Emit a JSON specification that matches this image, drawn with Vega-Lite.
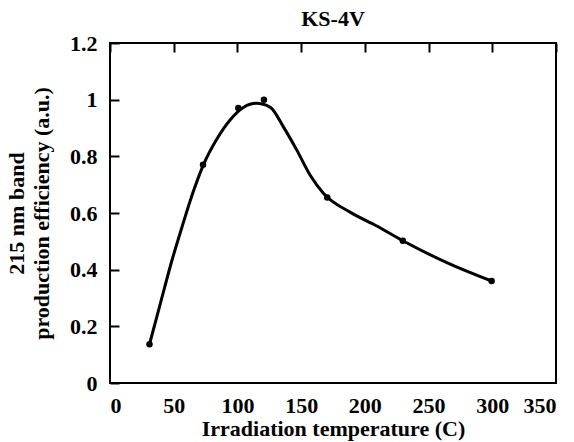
{
  "$schema": "https://vega.github.io/schema/vega-lite/v6.json",
  "autosize": "none",
  "width": 446,
  "height": 340,
  "padding": {"left": 110, "top": 43, "right": 18, "bottom": 59},
  "background": "white",
  "title": {"text": "KS-4V", "font": "Liberation Serif", "fontSize": 22, "fontWeight": "bold", "color": "black", "offset": 1},
  "config": {
    "view": {"stroke": "black", "strokeWidth": 2},
    "axis": {"domain": false, "ticks": false, "tickSize": 0, "grid": true, "gridColor": "black", "gridWidth": 2, "gridOpacity": 1,
      "labelFont": "Liberation Serif", "labelFontSize": 22, "labelFontWeight": "bold", "labelColor": "black",
      "titleFont": "Liberation Serif", "titleFontSize": 22, "titleFontWeight": "bold", "titleColor": "black"}
  },
  "datasets": {
    "points": [
      {"t": 31, "e": 0.137},
      {"t": 73, "e": 0.770},
      {"t": 100.7, "e": 0.971},
      {"t": 120.8, "e": 1.0},
      {"t": 170.5, "e": 0.655},
      {"t": 229.8, "e": 0.502},
      {"t": 299.5, "e": 0.360}
    ],
    "curve": [
      {"t": 31, "e": 0.137},
      {"t": 39.6, "e": 0.282},
      {"t": 48.7, "e": 0.434},
      {"t": 56.6, "e": 0.552},
      {"t": 65.7, "e": 0.680},
      {"t": 73.3, "e": 0.770},
      {"t": 84.0, "e": 0.862},
      {"t": 94.4, "e": 0.929},
      {"t": 104.9, "e": 0.973},
      {"t": 114.6, "e": 0.987},
      {"t": 125.8, "e": 0.973},
      {"t": 136.2, "e": 0.903},
      {"t": 146.7, "e": 0.821},
      {"t": 157.1, "e": 0.733},
      {"t": 167.6, "e": 0.669},
      {"t": 188.4, "e": 0.603},
      {"t": 209.4, "e": 0.554},
      {"t": 229.8, "e": 0.502},
      {"t": 264.3, "e": 0.425},
      {"t": 299.5, "e": 0.360}
    ]
  },
  "resolve": {"axis": {"x": "independent", "y": "independent"}},
  "layer": [
    {
      "data": {"name": "curve"},
      "mark": {"type": "line", "interpolate": "monotone", "color": "black", "strokeWidth": 3},
      "encoding": {
        "x": {"field": "t", "type": "quantitative", "scale": {"domain": [0, 350], "nice": false},
          "axis": {"title": "Irradiation temperature (C)", "values": [0, 50, 100, 150, 200, 250, 300, 350], "gridDash": [9, 1000], "labelPadding": 12, "titlePadding": 2}},
        "y": {"field": "e", "type": "quantitative", "scale": {"domain": [0, 1.2], "nice": false},
          "axis": {"title": ["215 nm band", "production efficiency (a.u.)"], "values": [0, 0.2, 0.4, 0.6, 0.8, 1, 1.2], "format": ".1~f", "gridDash": [9, 1000], "labelPadding": 13, "titlePadding": 16, "titleLineHeight": 25}}
      }
    },
    {
      "data": {"name": "points"},
      "mark": {"type": "point", "filled": true, "color": "black", "size": 42, "opacity": 1},
      "encoding": {
        "x": {"field": "t", "type": "quantitative", "scale": {"domain": [0, 350], "nice": false},
          "axis": {"orient": "top", "title": null, "labels": false, "gridDash": [9, 1000], "values": [0, 50, 100, 150, 200, 250, 300, 350]}},
        "y": {"field": "e", "type": "quantitative", "scale": {"domain": [0, 1.2], "nice": false},
          "axis": {"orient": "right", "title": null, "labels": false, "gridDash": [9, 1000], "values": [0, 0.2, 0.4, 0.6, 0.8, 1, 1.2]}}
      }
    }
  ]
}
